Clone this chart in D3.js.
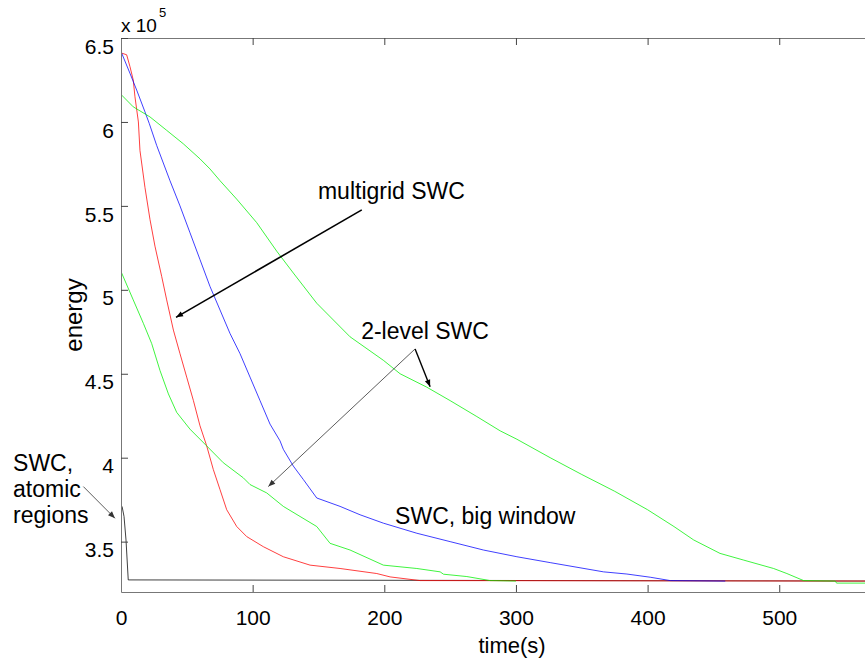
<!doctype html>
<html lang="en">
 <head>
   <meta charset="UTF-8">
   <title>energy vs time</title>
   <script src="https://d3js.org/d3.v7.min.js"></script>
   <style>
     body { margin: 0; background: #fff; }
     text { font-family: "Liberation Sans", Arial, sans-serif; }
   </style>
 </head>
 <body>
   <div id="myDiv"></div>

 <script type="text/javascript">

   // series values, [time (s), energy (x 10^5)]
   let multigrid = [[0.5,6.41],[4.3,6.40],[6.8,6.33],[9.3,6.25],[10.6,6.15],[13.2,6.0],[14.4,5.83],
     [18.2,5.61],[22,5.42],[25.8,5.26],[30.9,5.08],[34.7,4.94],[39.8,4.76],[44.8,4.62],[49.9,4.48],
     [55,4.34],[60,4.19],[65.1,4.07],[70.1,3.93],[75.2,3.81],[80.3,3.69],[87.9,3.59],[95.5,3.53],
     [108.1,3.47],[123.3,3.41],[143.6,3.36],[166.4,3.34],[194.3,3.31],[204.4,3.29],[227.2,3.268],[594,3.265]];

   let bigWindow = [[0.5,6.41],[6.8,6.29],[11.9,6.19],[18.2,6.06],[21.5,5.99],[27.1,5.86],
     [37.2,5.65],[44.8,5.50],[52.4,5.34],[60,5.18],[67.6,5.02],[75.2,4.88],[82.8,4.74],[90.4,4.62],
     [98,4.48],[105.6,4.34],[113.2,4.2],[120.8,4.1],[123.3,4.05],[130.9,3.95],[138.5,3.87],[148.7,3.76],
     [166.4,3.71],[181.6,3.66],[199.3,3.61],[224.7,3.55],[250,3.5],[275.3,3.45],[300.7,3.41],[326,3.375],
     [366.5,3.32],[384.3,3.307],[402,3.288],[417.2,3.268],[459,3.265]];

   let twoLevelA = [[0.5,6.16],[9.3,6.09],[22,6.03],[34.7,5.95],[47.3,5.87],[60,5.78],[67.6,5.72],
     [75.2,5.65],[87.9,5.54],[103.1,5.40],[118.3,5.23],[130.9,5.10],[148.7,4.92],[174,4.72],[199.3,4.58],
     [212,4.50],[232.3,4.42],[250,4.34],[270.3,4.245],[288,4.16],[300.7,4.11],[326,4.0],[350,3.9],
     [375,3.8],[400,3.69],[420,3.59],[435,3.51],[455,3.43],[473,3.39],[495.7,3.34],[505.8,3.31],
     [518.5,3.268],[542.6,3.265],[543.5,3.253],[594,3.253]];

   let twoLevelB = [[0.5,5.10],[9.3,4.94],[17,4.80],[23.3,4.68],[29.6,4.52],[36,4.38],[42.3,4.27],
     [52.4,4.17],[65.1,4.07],[77.7,3.97],[92.9,3.88],[98,3.84],[110.7,3.79],[123.3,3.71],[136,3.65],
     [148.7,3.59],[158.8,3.49],[174,3.45],[199.3,3.36],[224.7,3.34],[242.4,3.32],[245,3.306],
     [262.7,3.292],[280.4,3.268],[300,3.265]];

   let atomic = [[0.8,3.71],[2.3,3.65],[3.8,3.51],[5.5,3.272],[594,3.265]];

   // tick labels
   let xTicks = [0, 100, 200, 300, 400, 500];
   let yTicks = [3.5, 4, 4.5, 5, 5.5, 6, 6.5];

   // annotation texts and arrows, in data units
   let labels = [
     {lines: ["multigrid SWC"], t: 149.6, v: 5.541},
     {lines: ["2-level SWC"], t: 182.4, v: 4.707},
     {lines: ["SWC, big window"], t: 208.2, v: 3.605},
     {lines: ["SWC,", "atomic", "regions"], t: -82, v: 3.921}
   ];
   let arrows = [
     {from: [182.9, 5.476], to: [41.8, 4.836], w: 1.6, c: "#000"},
     {from: [223.4, 4.648], to: [234.8, 4.423], w: 1.4, c: "#000"},
     {from: [223.4, 4.648], to: [111.9, 3.828], w: 0.8, c: "#333"},
     {from: [-28.6, 3.828], to: [-4.6, 3.639], w: 0.8, c: "#333"}
   ];

   let width = 865, height = 664;
   let mLeft = 121, mTop = 38, mBottom = 592, mRight = 903;

   let svgContainer = d3.select("#myDiv").append("svg")
      .attr("width", width)
      .attr("height", height);

   let x = d3.scaleLinear().domain([0, 594]).range([mLeft, mRight]);
   let y = d3.scaleLinear().domain([3.2, 6.5]).range([mBottom, mTop]);

   let line = d3.line()
      .x(function(d){ return x(d[0]); })
      .y(function(d){ return y(d[1]); });

   // draw series (black first, then red, greens and blue on top)
   let series = [
     {data: atomic, color: "#000000"},
     {data: multigrid, color: "#ff0000"},
     {data: twoLevelB, color: "#00f000"},
     {data: bigWindow, color: "#0000ff"},
     {data: twoLevelA, color: "#00f000"}
   ];
   let plot = svgContainer.append("g");
   plot.selectAll("path")
      .data(series)
      .enter()
      .append("path")
         .attr("d", function(d){ return line(d.data); })
         .attr("fill", "none")
         .attr("stroke", function(d){ return d.color; })
         .attr("stroke-width", 1)
         .attr("stroke-opacity", 0.75);

   // axes, MATLAB style with ticks pointing inward
   function styleAxis(g) {
     g.select(".domain").attr("stroke", "#777");
     g.selectAll(".tick line").attr("stroke", "#444");
     g.selectAll(".tick text")
       .attr("fill", "#000")
       .attr("font-size", "21px")
       .attr("font-family", "Liberation Sans, Arial, sans-serif");
   }

   svgContainer.append("g")
      .attr("transform", "translate(0," + mBottom + ")")
      .call(d3.axisBottom(x).tickValues(xTicks).tickSizeInner(-7).tickSizeOuter(0).tickPadding(18))
      .call(styleAxis);

   svgContainer.append("g")
      .attr("transform", "translate(0," + mTop + ")")
      .call(d3.axisTop(x).tickValues(xTicks).tickSizeInner(-7).tickSizeOuter(0).tickFormat(""))
      .call(styleAxis);

   // y labels hang just below their ticks, as in the original export
   svgContainer.append("g")
      .attr("transform", "translate(" + mLeft + ",0)")
      .call(d3.axisLeft(y).tickValues(yTicks).tickSizeInner(-7).tickSizeOuter(0).tickPadding(7)
        .tickFormat(function(d){ return d3.format("")(d); }))
      .call(styleAxis)
      .selectAll(".tick text").attr("dy", "0.72em");

   // axis titles
   svgContainer.append("text")
      .attr("x", (mLeft + mRight) / 2)
      .attr("y", 653)
      .attr("text-anchor", "middle")
      .attr("font-size", "22px")
      .text("time(s)");

   svgContainer.append("text")
      .attr("transform", "translate(82," + (mTop + mBottom) / 2 + ") rotate(-90)")
      .attr("text-anchor", "middle")
      .attr("font-size", "24px")
      .text("energy");

   let expo = svgContainer.append("text")
      .attr("x", 121)
      .attr("y", 32)
      .attr("font-size", "19px");
   expo.append("tspan").text("x 10");
   expo.append("tspan").attr("dy", -15).attr("dx", 2).attr("font-size", "13px").text("5");

   // arrows
   svgContainer.append("defs").selectAll("marker")
      .data(arrows)
      .enter()
      .append("marker")
         .attr("id", function(d, i){ return "head" + i; })
         .attr("viewBox", "0 -5 10 10")
         .attr("refX", 10)
         .attr("markerUnits", "userSpaceOnUse")
         .attr("markerWidth", 8)
         .attr("markerHeight", 7)
         .attr("orient", "auto")
      .append("path")
         .attr("d", "M0,-4L10,0L0,4Z")
         .attr("fill", function(d){ return d.c; });

   svgContainer.selectAll(".arrow")
      .data(arrows)
      .enter()
      .append("line")
         .attr("class", "arrow")
         .attr("x1", function(d){ return x(d.from[0]); })
         .attr("y1", function(d){ return y(d.from[1]); })
         .attr("x2", function(d){ return x(d.to[0]); })
         .attr("y2", function(d){ return y(d.to[1]); })
         .attr("stroke", function(d){ return d.c; })
         .attr("stroke-width", function(d){ return d.w; })
         .attr("marker-end", function(d, i){ return "url(#head" + i + ")"; });

   // annotation labels
   let notes = svgContainer.selectAll(".note")
      .data(labels)
      .enter()
      .append("text")
         .attr("class", "note")
         .attr("x", function(d){ return x(d.t); })
         .attr("y", function(d){ return y(d.v); })
         .attr("font-size", "23px")
         .attr("fill", "#000");
   notes.selectAll("tspan")
      .data(function(d){ return d.lines.map(function(s){ return {s: s, t: d.t}; }); })
      .enter()
      .append("tspan")
         .attr("x", function(d){ return x(d.t); })
         .attr("dy", function(d, i){ return i === 0 ? 0 : 26; })
         .text(function(d){ return d.s; });
 </script>
</body>
</html>
